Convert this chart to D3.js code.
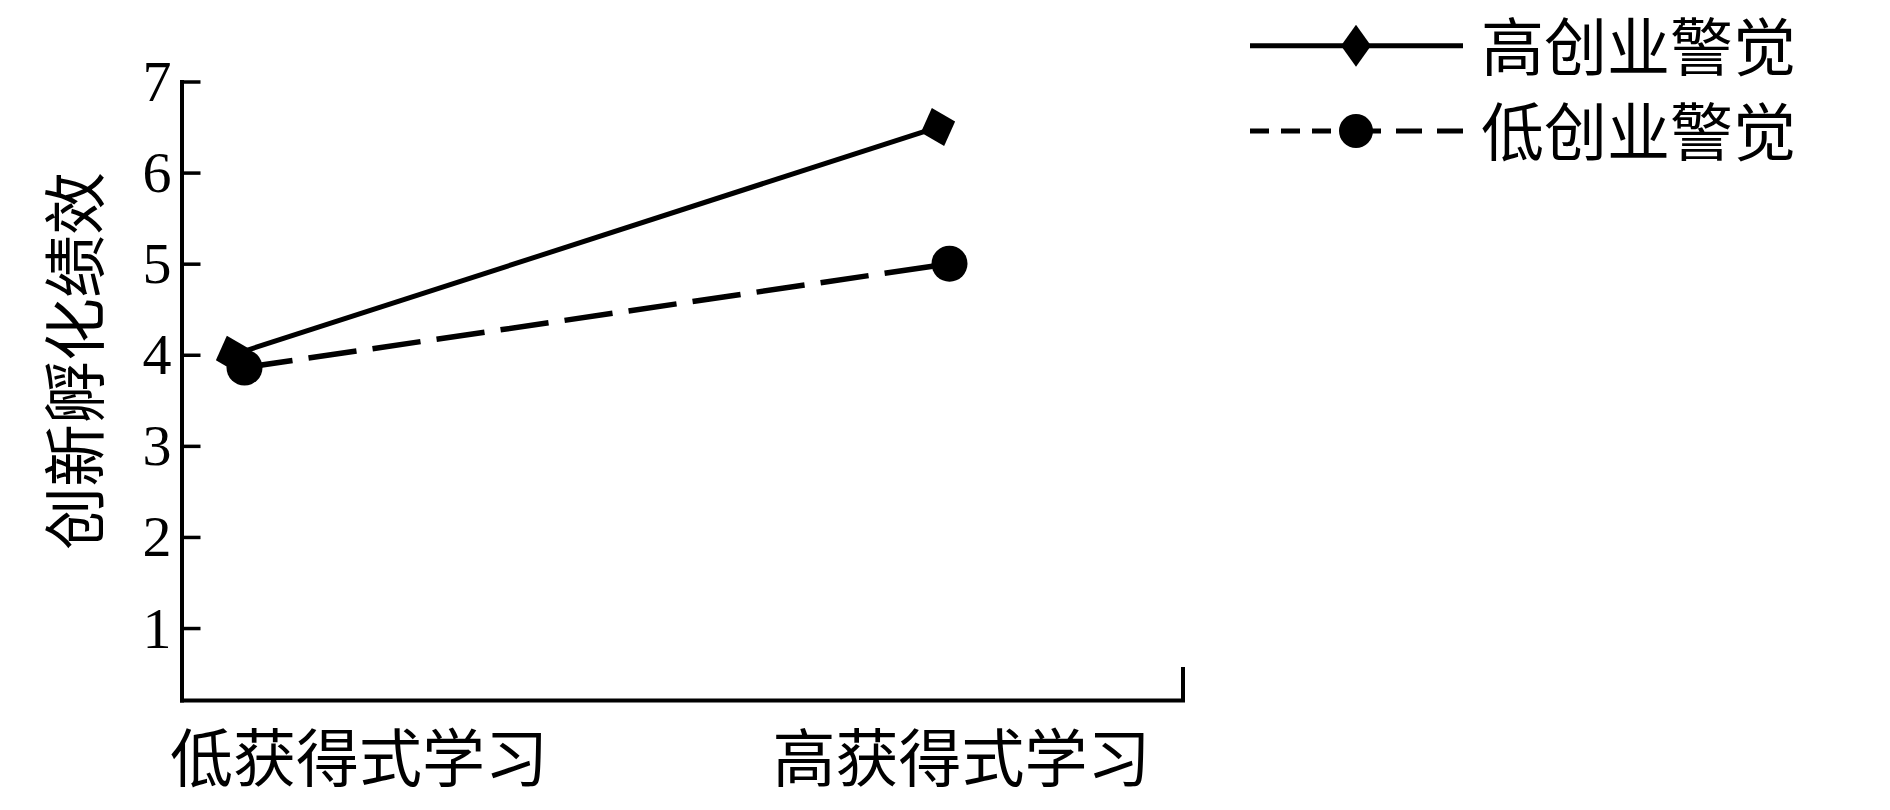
<!DOCTYPE html>
<html>
<head>
<meta charset="utf-8">
<script src="https://cdn.jsdelivr.net/npm/d3@7"></script>
<style>
  html, body { margin: 0; padding: 0; background: #fff; }
  svg { display: block; }
</style>
</head>
<body>
<svg id="chart" width="1890" height="810"></svg>
<script>
// ---- data ----
const categories = ["低获得式学习", "高获得式学习"];
const seriesNames = ["高创业警觉", "低创业警觉"];
const highValues = [4.0, 6.5];
const lowValues = [3.86, 5.0];
const yTicks = [1, 2, 3, 4, 5, 6, 7];

// ---- layout ----
const cjk = "'Noto Sans CJK SC', sans-serif";
const serif = "'Liberation Serif', 'Times New Roman', serif";
const cjkSize = 63;
const svg = d3.select("#chart");

const y = d3.scaleLinear().domain([0.21, 7]).range([700, 81.5]);
const xAxisScale = d3.scaleLinear().domain([0, 1]).range([181.5, 1182.5]);
const xPoint = d3.scalePoint().domain(categories).range([233, 938]);
const xLabel = d3.scalePoint().domain(categories).range([358.5, 961]);

// y axis
const gy = svg.append("g").attr("transform", "translate(181.5,0)")
  .call(d3.axisLeft(y).tickValues(yTicks).tickFormat(d3.format("d"))
    .tickSizeInner(-19).tickSizeOuter(0).tickPadding(10));
gy.select(".domain").attr("stroke", "#000").attr("stroke-width", 4).attr("stroke-linecap", "square");
gy.selectAll(".tick line").attr("stroke", "#000").attr("stroke-width", 3.5);
gy.selectAll(".tick text")
  .attr("font-family", serif).attr("font-size", 58).attr("fill", "#000")
  .attr("dy", null).attr("y", 19);

// x axis
const gx = svg.append("g").attr("transform", "translate(0,700)")
  .call(d3.axisBottom(xAxisScale).tickValues([]).tickSizeOuter(-31));
gx.select(".domain").attr("stroke", "#000").attr("stroke-width", 4).attr("stroke-linecap", "square").attr("fill", "none");

// category labels
const gl = svg.append("g").attr("transform", "translate(0,781)")
  .call(d3.axisBottom(xLabel).tickSize(0).tickPadding(0));
gl.select(".domain").remove();
gl.selectAll(".tick text")
  .attr("font-family", cjk).attr("font-size", cjkSize).attr("fill", "#000")
  .attr("dy", null).attr("y", 0);

// y axis title
svg.append("text")
  .attr("transform", "translate(97.5,361) rotate(-90)")
  .attr("text-anchor", "middle")
  .attr("font-family", cjk).attr("font-size", cjkSize).attr("fill", "#000")
  .text("创新孵化绩效");

// ---- series ----
const lowOffset = 11.5;
const highPts = categories.map((c, i) => [xPoint(c), y(highValues[i])]);
const lowPts = categories.map((c, i) => [xPoint(c) + lowOffset, y(lowValues[i])]);
const line = d3.line();

svg.append("path").attr("d", line(highPts))
  .attr("fill", "none").attr("stroke", "#000").attr("stroke-width", 5);
svg.append("path").attr("d", line(lowPts))
  .attr("fill", "none").attr("stroke", "#000").attr("stroke-width", 5.5)
  .attr("stroke-dasharray", "48.5,16.2");

function diamondPath(hw, hh) {
  return `M${-hw},0L0,${-hh}L${hw},0L0,${hh}Z`;
}
const ang = Math.atan2(highPts[1][1] - highPts[0][1], highPts[1][0] - highPts[0][0]) * 180 / Math.PI;
svg.selectAll(".dia").data(highPts).enter().append("path")
  .attr("d", diamondPath(18, 20))
  .attr("transform", d => `translate(${d[0]},${d[1]}) rotate(${ang})`)
  .attr("fill", "#000");
svg.selectAll(".dot").data(lowPts).enter().append("circle")
  .attr("cx", d => d[0]).attr("cy", d => d[1]).attr("r", 18).attr("fill", "#000");

// ---- legend ----
const legY = [45.8, 131];
const legX0 = 1250, legX1 = 1463, legM = 1356;
// row 1
svg.append("line").attr("x1", legX0).attr("x2", legX1).attr("y1", legY[0]).attr("y2", legY[0])
  .attr("stroke", "#000").attr("stroke-width", 5);
svg.append("path").attr("d", diamondPath(15, 21))
  .attr("transform", `translate(${legM},${legY[0]})`).attr("fill", "#000");
// row 2
svg.append("line").attr("x1", legX0).attr("x2", legM).attr("y1", legY[1]).attr("y2", legY[1])
  .attr("stroke", "#000").attr("stroke-width", 5).attr("stroke-dasharray", "19,12");
svg.append("line").attr("x1", legM).attr("x2", legX1).attr("y1", legY[1]).attr("y2", legY[1])
  .attr("stroke", "#000").attr("stroke-width", 5).attr("stroke-dasharray", "26,15")
  .attr("stroke-dashoffset", 1);
svg.append("circle").attr("cx", legM).attr("cy", legY[1]).attr("r", 17).attr("fill", "#000");

svg.selectAll(".legtext").data(seriesNames).enter().append("text")
  .attr("x", 1481).attr("y", (d, i) => legY[i] + 24)
  .attr("font-family", cjk).attr("font-size", cjkSize).attr("fill", "#000")
  .text(d => d);
</script>
</body>
</html>
